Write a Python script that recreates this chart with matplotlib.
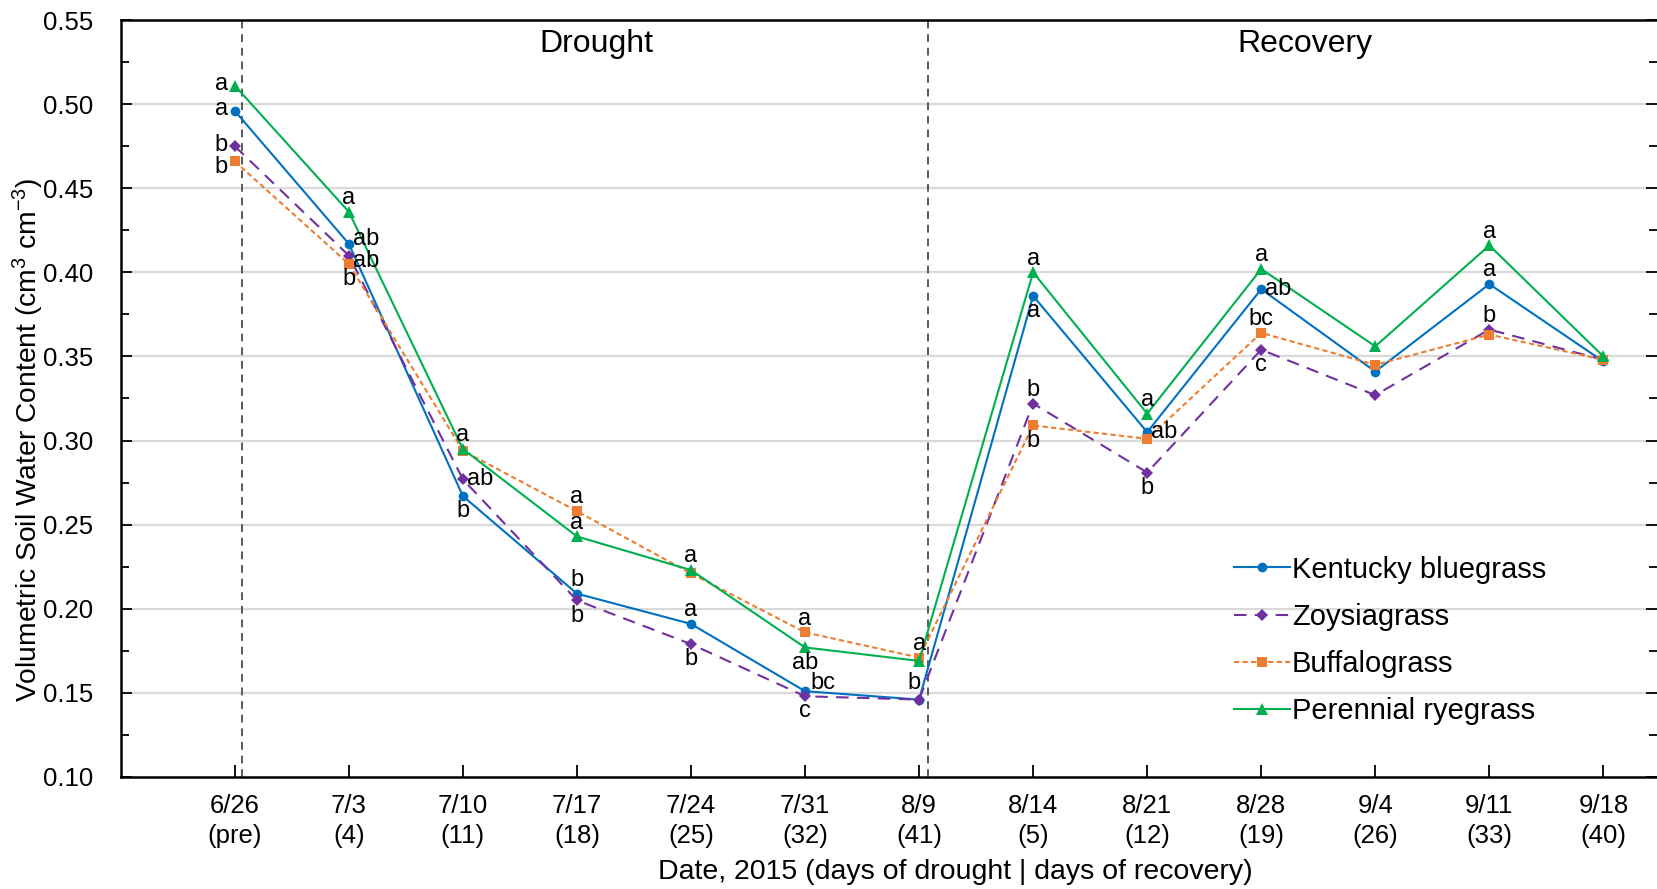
import matplotlib
matplotlib.use("Agg")
import matplotlib.pyplot as plt
import numpy as np

plt.rcParams['font.family'] = ['Liberation Sans', 'DejaVu Sans']
plt.rcParams['mathtext.fontset'] = 'custom'
plt.rcParams['mathtext.rm'] = 'Liberation Sans'
plt.rcParams['mathtext.it'] = 'Liberation Sans:italic'

dates = ["6/26", "7/3", "7/10", "7/17", "7/24", "7/31", "8/9",
         "8/14", "8/21", "8/28", "9/4", "9/11", "9/18"]
days = ["(pre)", "(4)", "(11)", "(18)", "(25)", "(32)", "(41)",
        "(5)", "(12)", "(19)", "(26)", "(33)", "(40)"]

kentucky = [0.496, 0.417, 0.267, 0.209, 0.191, 0.151, 0.146,
            0.386, 0.305, 0.390, 0.341, 0.393, 0.347]
zoysia = [0.475, 0.410, 0.277, 0.205, 0.179, 0.148, 0.146,
          0.322, 0.281, 0.354, 0.327, 0.366, 0.348]
buffalo = [0.466, 0.405, 0.294, 0.258, 0.221, 0.186, 0.171,
           0.309, 0.301, 0.364, 0.345, 0.363, 0.348]
ryegrass = [0.511, 0.436, 0.295, 0.243, 0.223, 0.177, 0.169,
            0.400, 0.316, 0.402, 0.356, 0.416, 0.350]

# significance letters and their placement (L=left, A=above, B=below, R=right, Ra=right-above)
kentucky_letters = ["a", "ab", "b", "b", "a", "bc", "b", "a", "ab", "ab", "", "a", ""]
kentucky_pos = ["L", "Ru", "B", "A", "A", "Ra", "Al", "B", "R", "R", "", "A", ""]
zoysia_letters = ["b", "ab", "ab", "b", "b", "c", "", "b", "b", "c", "", "b", ""]
zoysia_pos = ["L", "Rd", "R", "B", "B", "B", "", "A", "B", "B", "", "A", ""]
buffalo_letters = ["b", "b", "", "a", "", "a", "a", "b", "", "bc", "", "", ""]
buffalo_pos = ["Lb", "B", "", "A", "", "A", "A", "B", "", "A", "", "", ""]
ryegrass_letters = ["a", "a", "a", "a", "a", "ab", "", "a", "a", "a", "", "a", ""]
ryegrass_pos = ["L", "A", "A", "A", "A", "B", "", "A", "A", "A", "", "A", ""]

series_names = ["Kentucky bluegrass", "Zoysiagrass", "Buffalograss", "Perennial ryegrass"]
phase_labels = ["Drought", "Recovery"]

fig = plt.figure(figsize=(16.58, 8.89), dpi=100)
ax = fig.add_axes([0.0728, 0.126, 0.9266, 0.8515])

x = np.arange(len(dates))

styles = [
    dict(color="#0070C0", ls="-", marker="o", ms=7),
    dict(color="#7030A0", ls=(0, (6, 4)), marker="D", ms=6.5),
    dict(color="#ED7D31", ls=(0, (2.5, 1.6)), marker="s", ms=6.5),
    dict(color="#00B050", ls="-", marker="^", ms=8.5),
]
data = [kentucky, zoysia, buffalo, ryegrass]
letters = [kentucky_letters, zoysia_letters, buffalo_letters, ryegrass_letters]
positions = [kentucky_pos, zoysia_pos, buffalo_pos, ryegrass_pos]

handles = []
for vals, st, name in zip(data, styles, series_names):
    h, = ax.plot(x, vals, color=st["color"], linestyle=st["ls"], lw=1.5,
                 marker=st["marker"], markersize=st["ms"], markeredgewidth=0,
                 label=name, zorder=3)
    handles.append(h)

offs = {
    "A": ((0, 2), "center", "bottom"),
    "Al": ((-4, 4), "center", "bottom"),
    "B": ((0, -3), "center", "top"),
    "R": ((3, 0), "left", "center"),
    "Ru": ((3, 3.5), "left", "center"),
    "Rd": ((3, -4), "left", "center"),
    "Ra": ((4, 6), "left", "center"),
    "L": ((-5, 1), "right", "center"),
    "Lb": ((-5, -4), "right", "center"),
}
for vals, lets, poss in zip(data, letters, positions):
    for i, (v, l, p) in enumerate(zip(vals, lets, poss)):
        if not l:
            continue
        (dx, dy), ha, va = offs[p]
        ax.annotate(l, (x[i], v), xytext=(dx, dy), textcoords="offset points",
                    ha=ha, va=va, fontsize=17, color="black", zorder=4)

# phase dividers
ax.axvline(0.06, color="#595959", ls=(0, (4, 3)), lw=1.4, zorder=2)
ax.axvline(6.08, color="#595959", ls=(0, (4, 3)), lw=1.4, zorder=2)
ax.text(3.17, 0.531, phase_labels[0], ha="center", va="baseline", fontsize=23)
ax.text(9.38, 0.531, phase_labels[1], ha="center", va="baseline", fontsize=23)

ax.set_xlim(-1, 12.47)
ax.set_ylim(0.10, 0.55)
ax.set_yticks(np.arange(0.10, 0.551, 0.05))
ax.set_yticks(np.arange(0.125, 0.55, 0.05), minor=True)
ax.set_yticklabels([f"{v:.2f}" for v in np.arange(0.10, 0.551, 0.05)])
ax.set_xticks(x)
ax.set_xticklabels([f"{d}\n{n}" for d, n in zip(dates, days)], linespacing=1.3)

for yv in np.arange(0.15, 0.501, 0.05):
    ax.axhline(yv, color="#d9d9d9", lw=1.6, zorder=1)

ax.tick_params(axis="y", which="both", direction="in", left=True, right=True,
               labelsize=18.5, pad=20, width=1.3, color="black")
ax.tick_params(axis="y", which="major", length=8)
ax.tick_params(axis="y", which="minor", length=6)
ax.tick_params(axis="x", direction="in", length=9, width=1.3, labelsize=18.5, pad=12.5)

for s in ["left", "bottom", "top"]:
    ax.spines[s].set_linewidth(1.8)
ax.spines["right"].set_visible(False)

ax.set_ylabel("Volumetric Soil Water Content (cm$^3$ cm$^{-3}$)", fontsize=20.3)
ax.set_xlabel("Date, 2015 (days of drought | days of recovery)", fontsize=20.5)
ax.yaxis.set_label_coords(-0.0485, 0.445)
ax.xaxis.set_label_coords(0.543, -0.109)

ax.legend(handles=handles, loc="upper left", bbox_to_anchor=(0.717, 0.308),
          frameon=False, fontsize=21, handlelength=1.92, handletextpad=0.07,
          labelspacing=0.66, borderaxespad=0)

fig.savefig("out.png", dpi=100)
